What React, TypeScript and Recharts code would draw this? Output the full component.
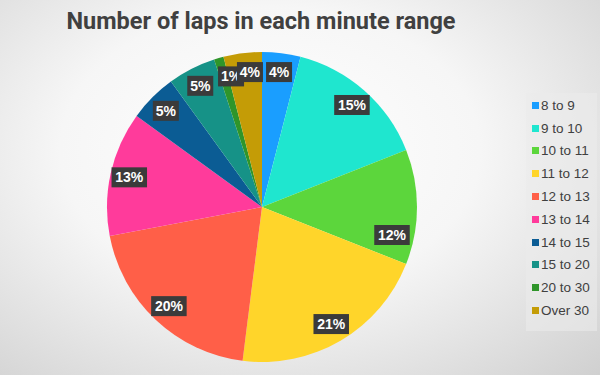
import React from "react"
import { PieChart, Pie, Cell } from "recharts"

const ranges = ["8 to 9", "9 to 10", "10 to 11", "11 to 12", "12 to 13", "13 to 14", "14 to 15", "15 to 20", "20 to 30", "Over 30"]
const shares = [4, 15, 12, 21, 20, 13, 5, 5, 1, 4]
const colors = ["#1a9eff", "#1fe6cf", "#5cd63c", "#ffd52a", "#ff5f48", "#ff3b9b", "#0b5c94", "#169287", "#2f952a", "#c49c06"]

const data = ranges.map((name, i) => ({ name, value: shares[i] }))

const RAD = Math.PI / 180

function renderLabel(props: any) {
  const { cx, cy, midAngle, outerRadius, value, index } = props
  const r = outerRadius - 19
  let x = cx + r * Math.cos(-midAngle * RAD)
  let y = cy + r * Math.sin(-midAngle * RAD)
  // Excel moved a few labels off the mid angle
  if (index === 2) { x -= 6; y += 28 }
  if (index === 8) x += 7
  if (index === 9) x += 5
  const text = `${value}%`
  const w = text.length * 9.5 + 7
  return (
    <g>
      <rect x={x - w / 2} y={y - 10} width={w} height={20} fill="#3b3b3b" />
      <text x={x} y={y + 1} fill="#fff" fontSize={14} fontWeight="bold" textAnchor="middle" dominantBaseline="middle" fontFamily="Liberation Sans, Arial, sans-serif">
        {text}
      </text>
    </g>
  )
}

export default function App() {
  return (
    <div
      style={{
        position: "absolute",
        left: 0,
        top: 0,
        width: 600,
        height: 375,
        background: "radial-gradient(ellipse at 45% 40%, #ffffff 0%, #f6f6f6 45%, #d0d0d0 100%)",
        fontFamily: "Liberation Sans, Arial, sans-serif",
        overflow: "hidden",
      }}
    >
      <div
        style={{
          position: "absolute",
          top: 7,
          left: 0,
          width: 522,
          textAlign: "center",
          fontSize: 23.5,
          fontWeight: "bold",
          color: "#404040",
          fontFamily: "Roboto, sans-serif",
        }}
      >
        Number of laps in each minute range
      </div>
      <div style={{ position: "absolute", left: 0, top: 0 }}>
        <PieChart width={524} height={375} margin={{ top: 0, right: 0, bottom: 0, left: 0 }}>
          <Pie
            data={data}
            dataKey="value"
            nameKey="name"
            cx={262}
            cy={207}
            outerRadius={155}
            startAngle={90}
            endAngle={-270}
            stroke="none"
            label={renderLabel}
            labelLine={false}
            isAnimationActive={false}
          >
            {data.map((d, i) => (
              <Cell key={d.name} fill={colors[i]} />
            ))}
          </Pie>
        </PieChart>
      </div>
      <div
        style={{
          position: "absolute",
          left: 526,
          top: 93,
          width: 71,
          height: 238,
          background: "rgba(235,235,235,0.6)",
          paddingTop: 1,
          boxSizing: "border-box",
        }}
      >
        {ranges.map((name, i) => (
          <div key={name} style={{ display: "flex", alignItems: "center", height: 22.8, fontSize: 13.5, color: "#404040" }}>
            <span style={{ display: "inline-block", width: 7, height: 7, background: colors[i], marginLeft: 6, marginRight: 2 }} />
            {name}
          </div>
        ))}
      </div>
    </div>
  )
}
